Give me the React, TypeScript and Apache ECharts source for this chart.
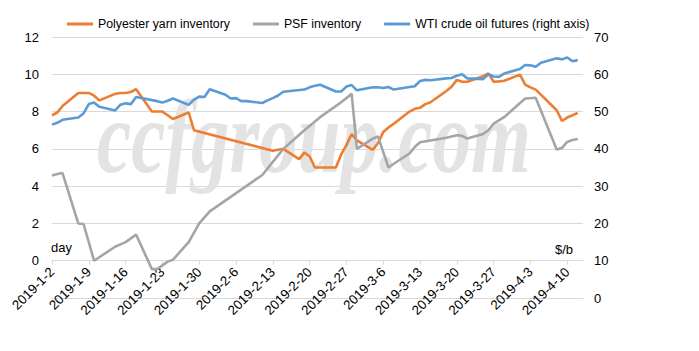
import React, { useEffect, useRef } from "react";
import * as echarts from "echarts";

// Daily category axis: 2019-1-2 .. 2019-4-13
const startDate = [2019, 0, 2];
const dayCount = 102;

const legendNames = [
  "Polyester yarn inventory",
  "PSF inventory",
  "WTI crude oil futures (right axis)",
];

const leftTicks = [0, 2, 4, 6, 8, 10, 12];
const rightTicks = [0, 10, 20, 30, 40, 50, 60, 70];

const yarnInventory: [string, number][] = [
  ["2019-1-2", 7.8], ["2019-1-3", 7.95], ["2019-1-4", 8.3], ["2019-1-7", 9.0],
  ["2019-1-8", 9.0], ["2019-1-9", 9.0], ["2019-1-10", 8.85], ["2019-1-11", 8.6],
  ["2019-1-14", 8.95], ["2019-1-15", 9.0], ["2019-1-16", 9.0], ["2019-1-17", 9.05],
  ["2019-1-18", 9.2], ["2019-1-21", 8.0], ["2019-1-22", 8.0], ["2019-1-23", 8.0],
  ["2019-1-24", 7.8], ["2019-1-25", 7.6], ["2019-1-28", 7.95], ["2019-1-29", 7.0],
  ["2019-2-13", 5.9], ["2019-2-14", 5.95], ["2019-2-15", 6.0], ["2019-2-18", 5.45],
  ["2019-2-19", 5.8], ["2019-2-20", 5.6], ["2019-2-21", 5.0], ["2019-2-22", 5.0],
  ["2019-2-25", 5.0], ["2019-2-26", 5.7], ["2019-2-27", 6.2], ["2019-2-28", 6.8],
  ["2019-3-1", 6.45], ["2019-3-4", 5.95], ["2019-3-5", 6.3], ["2019-3-6", 6.9],
  ["2019-3-7", 7.15], ["2019-3-8", 7.35], ["2019-3-11", 8.0], ["2019-3-12", 8.15],
  ["2019-3-13", 8.2], ["2019-3-14", 8.4], ["2019-3-15", 8.5], ["2019-3-18", 9.1],
  ["2019-3-19", 9.33], ["2019-3-20", 9.7], ["2019-3-21", 9.6], ["2019-3-22", 9.6],
  ["2019-3-25", 9.9], ["2019-3-26", 10.05], ["2019-3-27", 9.6], ["2019-3-28", 9.62],
  ["2019-3-29", 9.65], ["2019-4-1", 9.98], ["2019-4-2", 9.45], ["2019-4-3", 9.3],
  ["2019-4-4", 9.18], ["2019-4-8", 8.07], ["2019-4-9", 7.5], ["2019-4-10", 7.68],
  ["2019-4-11", 7.8], ["2019-4-12", 7.93],
];

const psfInventory: [string, number][] = [
  ["2019-1-2", 4.57], ["2019-1-3", 4.65], ["2019-1-4", 4.7], ["2019-1-7", 2.0],
  ["2019-1-8", 1.97], ["2019-1-10", 0.0], ["2019-1-14", 0.75], ["2019-1-16", 1.0],
  ["2019-1-18", 1.4], ["2019-1-21", -0.45], ["2019-1-22", -0.45], ["2019-1-24", -0.05],
  ["2019-1-25", 0.05], ["2019-1-28", 1.0], ["2019-1-30", 2.0], ["2019-2-1", 2.65],
  ["2019-2-11", 4.6], ["2019-2-13", 5.3], ["2019-2-15", 6.0], ["2019-2-19", 7.0],
  ["2019-2-22", 7.7], ["2019-2-26", 8.5], ["2019-2-28", 8.95], ["2019-3-1", 6.0],
  ["2019-3-4", 6.55], ["2019-3-5", 6.67], ["2019-3-7", 5.0], ["2019-3-8", 5.2],
  ["2019-3-11", 5.75], ["2019-3-12", 6.1], ["2019-3-13", 6.35], ["2019-3-15", 6.45],
  ["2019-3-18", 6.6], ["2019-3-20", 6.73], ["2019-3-21", 6.7], ["2019-3-22", 6.55],
  ["2019-3-25", 6.8], ["2019-3-26", 7.0], ["2019-3-27", 7.35], ["2019-3-29", 7.7],
  ["2019-4-2", 8.7], ["2019-4-4", 8.74], ["2019-4-8", 5.96], ["2019-4-9", 6.05],
  ["2019-4-10", 6.37], ["2019-4-11", 6.48], ["2019-4-12", 6.53],
];

const wtiFutures: [string, number][] = [
  ["2019-1-2", 46.5], ["2019-1-3", 47.0], ["2019-1-4", 47.8], ["2019-1-7", 48.4],
  ["2019-1-8", 49.5], ["2019-1-9", 52.0], ["2019-1-10", 52.4], ["2019-1-11", 51.3],
  ["2019-1-14", 50.3], ["2019-1-15", 51.8], ["2019-1-16", 52.2], ["2019-1-17", 52.0],
  ["2019-1-18", 53.9], ["2019-1-22", 52.8], ["2019-1-23", 52.4], ["2019-1-24", 52.9],
  ["2019-1-25", 53.5], ["2019-1-28", 51.8], ["2019-1-29", 53.2], ["2019-1-30", 54.0],
  ["2019-1-31", 53.9], ["2019-2-1", 56.0], ["2019-2-4", 54.5], ["2019-2-5", 53.5],
  ["2019-2-6", 53.6], ["2019-2-7", 52.8], ["2019-2-8", 52.8], ["2019-2-11", 52.3],
  ["2019-2-12", 53.0], ["2019-2-13", 53.6], ["2019-2-14", 54.3], ["2019-2-15", 55.3],
  ["2019-2-19", 55.9], ["2019-2-20", 56.5], ["2019-2-21", 56.9], ["2019-2-22", 57.2],
  ["2019-2-25", 55.4], ["2019-2-26", 55.4], ["2019-2-27", 56.7], ["2019-2-28", 57.1],
  ["2019-3-1", 55.7], ["2019-3-4", 56.5], ["2019-3-5", 56.5], ["2019-3-6", 56.3],
  ["2019-3-7", 56.6], ["2019-3-8", 55.9], ["2019-3-11", 56.6], ["2019-3-12", 56.8],
  ["2019-3-13", 58.2], ["2019-3-14", 58.5], ["2019-3-15", 58.4], ["2019-3-18", 58.9],
  ["2019-3-19", 59.0], ["2019-3-20", 59.6], ["2019-3-21", 60.0], ["2019-3-22", 58.9],
  ["2019-3-25", 58.7], ["2019-3-26", 60.0], ["2019-3-27", 59.4], ["2019-3-28", 59.3],
  ["2019-3-29", 60.2], ["2019-4-1", 61.4], ["2019-4-2", 62.5], ["2019-4-3", 62.4],
  ["2019-4-4", 62.0], ["2019-4-5", 63.1], ["2019-4-8", 64.3], ["2019-4-9", 64.0],
  ["2019-4-10", 64.5], ["2019-4-11", 63.5], ["2019-4-12", 63.8],
];

const colors = ["#ED7D31", "#A5A5A5", "#5B9BD5"];

function buildDays(): string[] {
  const out: string[] = [];
  const d = new Date(startDate[0], startDate[1], startDate[2]);
  for (let i = 0; i < dayCount; i++) {
    out.push(`${d.getFullYear()}-${d.getMonth() + 1}-${d.getDate()}`);
    d.setDate(d.getDate() + 1);
  }
  return out;
}

export default function App() {
  const ref = useRef<HTMLDivElement>(null);

  useEffect(() => {
    document.body.style.margin = "0";
    if (!ref.current) return;
    const chart = echarts.init(ref.current, null, { renderer: "svg" });
    const days = buildDays();
    const toData = (arr: [string, number][]) =>
      arr.map(([d, v]) => [days.indexOf(d), v]);
    const font = "'Liberation Sans', Arial, sans-serif";
    const weekly = (i: number) => i % 7 === 0;

    const gridTop = 37;
    const gridBottom = 53;
    const gridHeight = 351 - gridTop - gridBottom;
    // left axis spans -2..12; the category axis sits at 0 (one step above the bottom)
    const axisShift = -gridHeight / 7;

    const mkSeries = (name: string, data: [string, number][], color: string, yi: number) => ({
      name,
      type: "line",
      xAxisIndex: 0,
      yAxisIndex: yi,
      data: toData(data),
      showSymbol: false,
      symbol: "none",
      connectNulls: true,
      lineStyle: { color, width: 2.6 },
      itemStyle: { color },
      z: 3,
    });

    chart.setOption({
      animation: false,
      backgroundColor: "#ffffff",
      textStyle: { fontFamily: font },
      legend: {
        left: 62,
        top: 13,
        itemWidth: 26,
        itemHeight: 3,
        itemGap: 23,
        icon: "rect",
        textStyle: { fontSize: 12.3, color: "#000", fontFamily: font },
        data: legendNames,
      },
      grid: { left: 52, right: 116, top: gridTop, bottom: gridBottom },
      xAxis: [
        {
          type: "category",
          data: days,
          boundaryGap: false,
          offset: axisShift,
          axisLine: { onZero: false, lineStyle: { color: "#D9D9D9", width: 1 } },
          axisTick: { show: true, interval: weekly, length: 4, lineStyle: { color: "#D9D9D9" } },
          axisLabel: {
            interval: weekly,
            rotate: 45,
            fontSize: 13.3,
            color: "#000",
            margin: 9,
            fontFamily: font,
          },
          splitLine: { show: false },
        },
        {
          type: "category",
          data: days,
          boundaryGap: false,
          position: "bottom",
          axisLine: { show: true, onZero: false, lineStyle: { color: "#D9D9D9", width: 1 } },
          axisTick: { show: false },
          axisLabel: { show: false },
          splitLine: { show: false },
        },
      ],
      yAxis: [
        {
          type: "value",
          min: -2,
          max: 12,
          interval: 2,
          axisLine: { show: false },
          axisTick: { show: false },
          axisLabel: {
            fontSize: 13,
            color: "#000",
            margin: 13,
            fontFamily: font,
            formatter: (v: number) => (leftTicks.includes(v) ? String(v) : ""),
          },
          splitLine: { showMinLine: true, lineStyle: { color: "#D9D9D9", width: 1 } },
        },
        {
          type: "value",
          position: "right",
          min: 0,
          max: 70,
          interval: 10,
          axisLine: { show: false },
          axisTick: { show: false },
          axisLabel: {
            fontSize: 13,
            color: "#000",
            margin: 11,
            fontFamily: font,
            formatter: (v: number) => (rightTicks.includes(v) ? String(v) : ""),
          },
          splitLine: { show: false },
        },
      ],
      graphic: [
        {
          type: "text",
          z: 1,
          x: 97,
          y: 137,
          scaleX: 0.74,
          silent: true,
          style: {
            text: "ccfgroup.com",
            font: "italic bold 104px 'Liberation Serif', 'Times New Roman', serif",
            fill: "#e3e3e3",
            align: "left",
            verticalAlign: "middle",
          },
        },
        {
          type: "text",
          x: 51,
          y: 247,
          z: 5,
          style: { text: "day", font: `13px ${font}`, fill: "#000", verticalAlign: "middle" },
        },
        {
          type: "text",
          x: 555,
          y: 249,
          z: 5,
          style: { text: "$/b", font: `13px ${font}`, fill: "#000", verticalAlign: "middle" },
        },
      ],
      series: [
        mkSeries(legendNames[0], yarnInventory, colors[0], 0),
        mkSeries(legendNames[1], psfInventory, colors[1], 0),
        mkSeries(legendNames[2], wtiFutures, colors[2], 1),
      ],
    });

    return () => chart.dispose();
  }, []);

  return <div ref={ref} style={{ width: 699, height: 351 }} />;
}
